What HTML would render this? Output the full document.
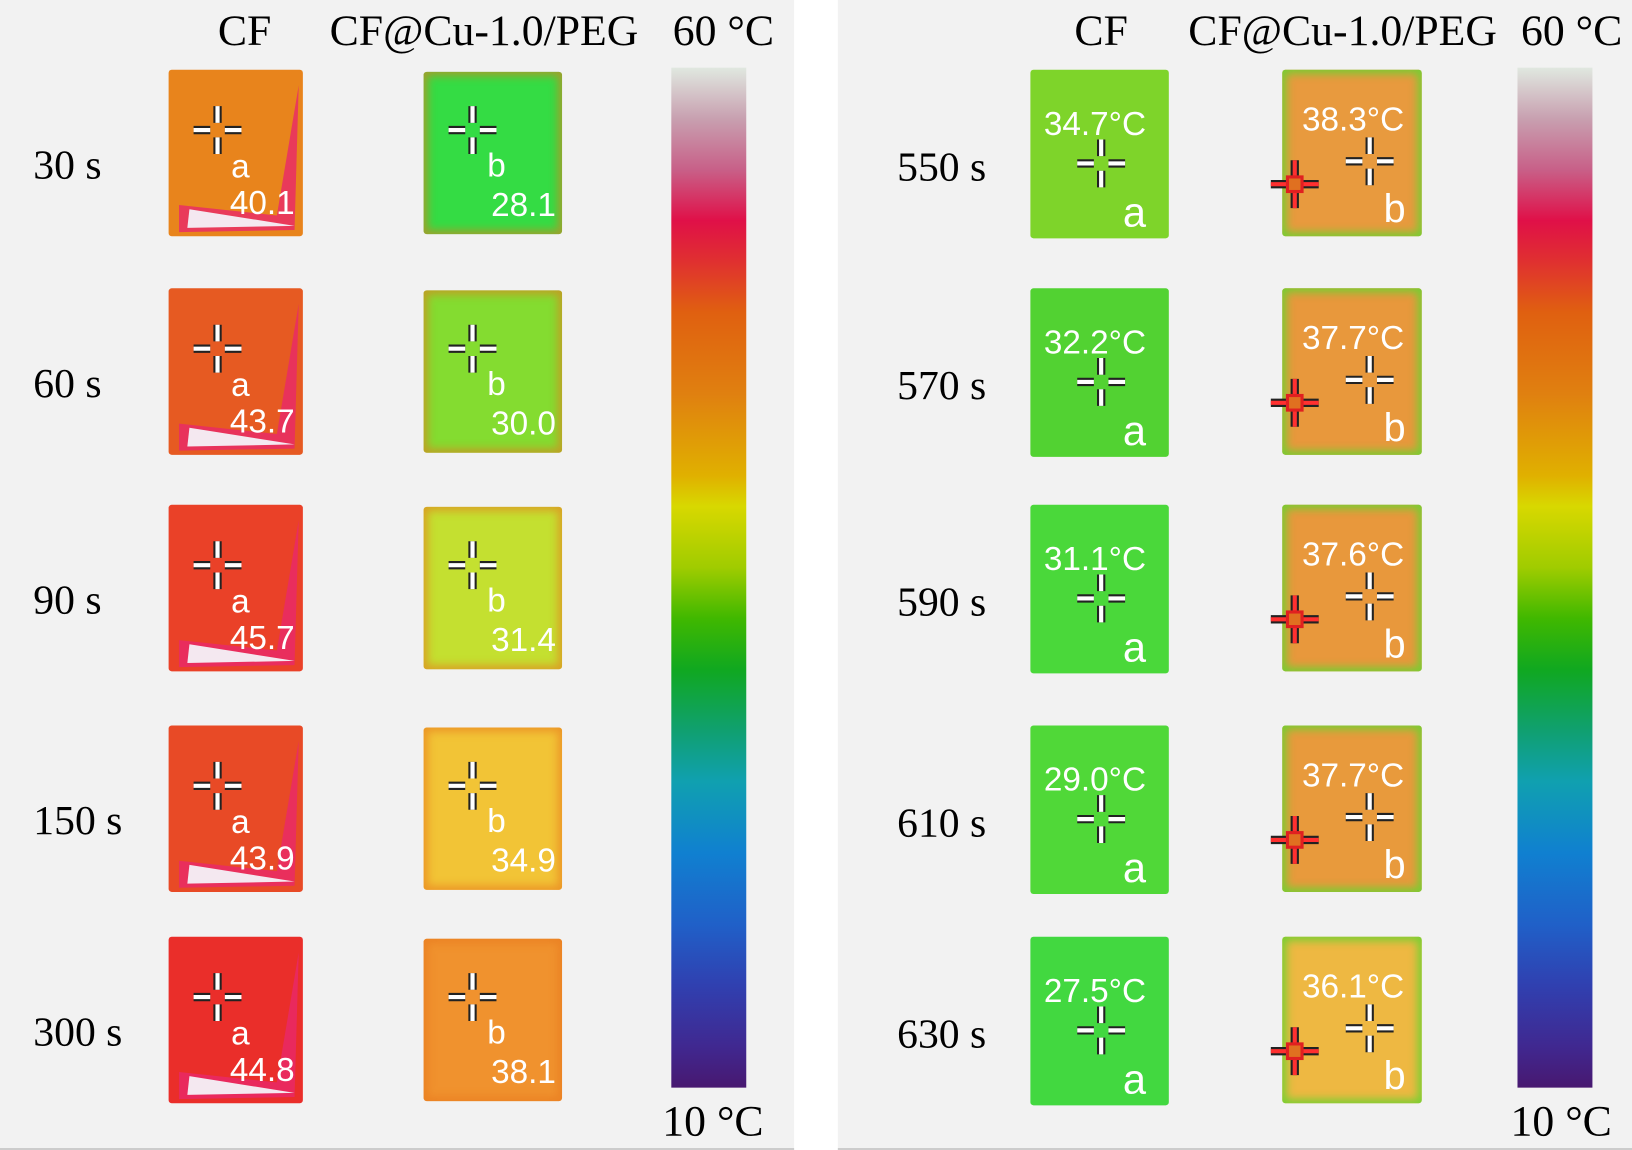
<!DOCTYPE html>
<html><head><meta charset="utf-8">
<style>
html,body{margin:0;padding:0;background:#fff;width:1632px;height:1150px;overflow:hidden}
#wrap{position:absolute;left:0;top:0;width:1568px;height:1105px;transform:scale(1.0408);transform-origin:0 0}
.panel{position:absolute;top:0;height:1103px;background:#f2f2f2;border-bottom:2px solid #ccc}
.t{position:absolute;font-family:"Liberation Serif",serif;color:#000;white-space:nowrap;transform:translate(-50%,-50%)}
.tl{position:absolute;font-family:"Liberation Serif",serif;color:#000;white-space:nowrap;transform:translate(0,-50%);font-size:40px}
.img{position:absolute;border-radius:3px;overflow:hidden}
.w{position:absolute;font-family:"Liberation Sans",sans-serif;color:#fff;white-space:nowrap;transform:translate(-50%,-50%);font-size:32px}
.cb{position:absolute;width:72px;top:65px;height:980px;background:linear-gradient(#e0e8e0 0%,#c8a0b0 5%,#c86088 10%,#e01048 15%,#e03030 19%,#e06010 24%,#e08010 32%,#e0b000 40%,#d8d800 43%,#a0cc00 49%,#40b800 54%,#10a820 59%,#10a070 65%,#10a0b0 70%,#1080d0 77%,#2060c8 84%,#3040b0 90%,#402890 96%,#481870 100%)}
</style></head><body>
<div id="wrap">
<div class="panel" style="left:0;width:763px"></div>
<div class="panel" style="left:805px;width:763px"></div>
<div class="cb" style="left:645px"></div>
<div class="cb" style="left:1458px"></div>
<div class="t" style="left:235px;top:30px;font-size:42px">CF</div>
<div class="t" style="left:465px;top:30px;font-size:42px">CF@Cu-1.0/PEG</div>
<div class="t" style="left:695px;top:30px;font-size:42px">60 °C</div>
<div class="t" style="left:685px;top:1078px;font-size:42px">10 °C</div>
<div class="t" style="left:1058px;top:30px;font-size:42px">CF</div>
<div class="t" style="left:1290px;top:30px;font-size:42px">CF@Cu-1.0/PEG</div>
<div class="t" style="left:1510px;top:30px;font-size:42px">60 °C</div>
<div class="t" style="left:1500px;top:1078px;font-size:42px">10 °C</div>
</div>
<script>
const leftTimes=["30 s","60 s","90 s","150 s","300 s"];
const leftCF=["40.1","43.7","45.7","43.9","44.8"];
const leftPEG=["28.1","30.0","31.4","34.9","38.1"];
const rightTimes=["550 s","570 s","590 s","610 s","630 s"];
const rightCF=["34.7","32.2","31.1","29.0","27.5"];
const rightPEG=["38.3","37.7","37.6","37.7","36.1"];
const leftCFColors=["#e8841c","#e65a22","#ea4128","#e84a26","#ea2e2a"];
const leftPEGColors=["#34dc44","#84dc30","#c4e030","#f2c436","#f0922e"];
const rightCFColors=["#7ed42a","#52d232","#4ad83a","#50d838","#42d840"];
const rightPEGColors=["#e89a3e","#e8983c","#e8983c","#e89a3c","#eeb842"];
const W=document.getElementById('wrap');
const rowY=[67,277,485,697,900];
function el(cls,x,y,txt,fs){const d=document.createElement('div');d.className=cls;d.style.left=x+'px';d.style.top=y+'px';if(fs)d.style.fontSize=fs+'px';d.textContent=txt;W.appendChild(d);return d;}
function cross(x,y,red){const s=document.createElementNS('http://www.w3.org/2000/svg','svg');s.setAttribute('width','50');s.setAttribute('height','50');s.style.position='absolute';s.style.left=(x-25)+'px';s.style.top=(y-25)+'px';
 const c=red?'#ff3030':'#fff';const L='<line x1="2" y1="25" x2="18" y2="25"/><line x1="32" y1="25" x2="48" y2="25"/><line x1="25" y1="2" x2="25" y2="18"/><line x1="25" y1="32" x2="25" y2="48"/>';
 s.innerHTML='<g stroke="#222" stroke-width="8">'+L+'</g><g stroke="'+c+'" stroke-width="4">'+L+'</g>'+(red?'<rect x="18" y="18" width="14" height="14" fill="#e07020" stroke="#e02020" stroke-width="3"/>':'');
 W.appendChild(s);return s;}
function img(x,y,w,h,col,edge,streak){const d=document.createElement('div');d.className='img';d.style.left=x+'px';d.style.top=y+'px';d.style.width=w+'px';d.style.height=h+'px';d.style.background=col;if(edge)d.style.boxShadow='inset 0 0 8px 4px '+edge;
 if(streak){d.innerHTML='<svg width="'+w+'" height="'+h+'" style="position:absolute;left:0;top:0"><polygon points="'+(w-4)+',15 '+(w-8)+','+(h-6)+' 10,'+(h-4)+' 10,'+(h-30)+' '+(w-25)+','+(h-20)+'" fill="#e8286a" opacity="0.8"/><polygon points="'+(w-8)+','+(h-10)+' 18,'+(h-8)+' 20,'+(h-26)+'" fill="#f4e8f0"/></svg>';}
 W.appendChild(d);return d;}
for(let i=0;i<5;i++){
  const y=rowY[i];
  let t=el('tl',32,y+91,leftTimes[i]);
  
  
  let a=img(162,y,129,160,leftCFColors[i],null,true);
  
  
  cross(209,y+58,false);
  el('w',231,y+93,'a',32);
  let va=el('w',252,y+128,leftCF[i],32);
  
  
  let b=img(407,y+2,133,156,leftPEGColors[i],'rgba(232,120,30,0.6)',false);
  
  
  cross(454,y+58,false);
  el('w',477,y+92,'b',32);
  let vb=el('w',503,y+130,leftPEG[i],32);
  
  
  let rt=el('tl',862,y+93,rightTimes[i]);
  
  
  let c=img(990,y,133,162,rightCFColors[i],null,false);
  
  
  let vc=el('w',1052,y+52,rightCF[i]+'°C',32);
  
  
  cross(1058,y+90,false);
  el('w',1090,y+138,'a',40);
  let d=img(1232,y,134,160,rightPEGColors[i],'rgba(110,210,50,0.9)',false);
  
  
  let vd=el('w',1300,y+48,rightPEG[i]+'°C',32);
  
  
  cross(1316,y+88,false);
  cross(1244,y+110,true);
  el('w',1340,y+135,'b',38);
}
</script>
</body></html>
